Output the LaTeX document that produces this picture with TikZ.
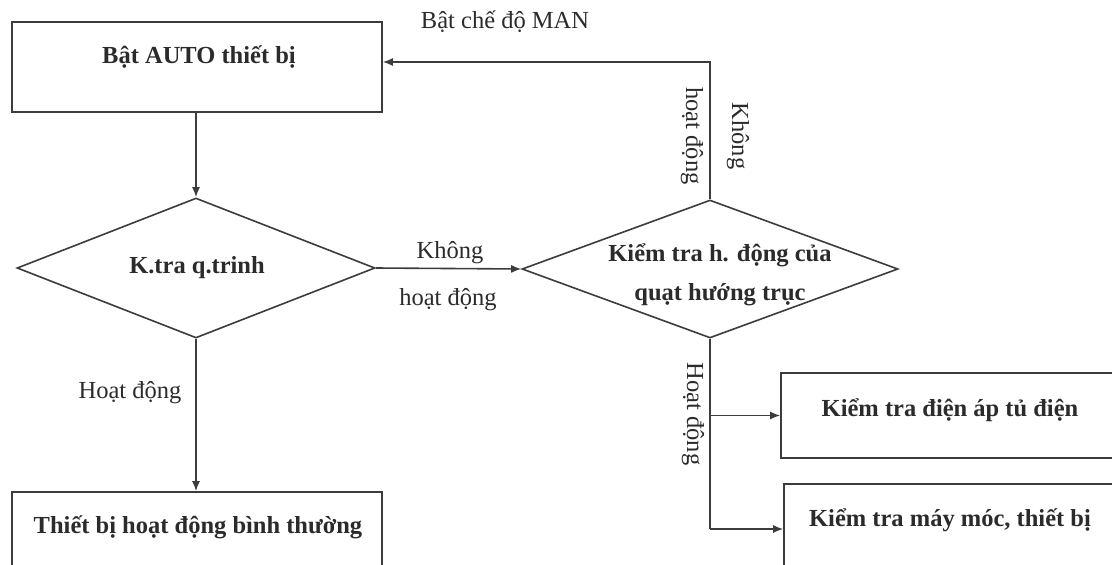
\documentclass[tikz,border=0pt]{standalone}
\usepackage{fontspec}
\setmainfont{Liberation Serif}
\usetikzlibrary{arrows.meta,shapes.geometric}
\definecolor{ink}{HTML}{2B2B2B}
\definecolor{wire}{HTML}{3C3C3C}
\begin{document}
\begin{tikzpicture}[x=1pt,y=-1pt,
  line width=1.6pt,
  every node/.style={text=ink},
  boxshape/.style={draw=wire,rectangle,inner sep=0pt},
  decision/.style={draw=wire,diamond,inner sep=0pt},
  boxtext/.style={font=\fontsize{24.5}{29}\selectfont\bfseries,inner sep=0pt},
  note/.style={font=\fontsize{24.5}{29}\selectfont,inner sep=0pt},
  flow/.style={draw=wire,-{Latex[length=10pt,width=8pt]}},
  link/.style={draw=wire}]
\useasboundingbox (0,0) rectangle (1112,565);
\fill[white] (0,0) rectangle (1112,565);
\begin{scope}
\clip (0,0) rectangle (1112,565);

% boxes
\node[boxshape,minimum width=370pt,minimum height=90pt] (b1) at (197,67) {};
\node[boxtext] (b1t) at (199,57) {Bật AUTO thiết bị};

\node[boxshape,minimum width=370pt,minimum height=120pt] (b2) at (197,552) {};
\node[boxtext] (b2t) at (198,527) {Thiết bị hoạt động bình thường};

\node[boxshape,minimum width=360pt,minimum height=85pt] (r1) at (961,415.5) {};
\node[boxtext] (r1t) at (950,410) {Kiểm tra điện áp tủ điện};

\node[boxshape,minimum width=360pt,minimum height=90pt] (r2) at (964,529) {};
\node[boxtext] (r2t) at (950,520) {Kiểm tra máy móc, thiết bị};

% decisions
\node[decision,minimum width=358pt,minimum height=140pt] (d1) at (196,268) {};
\node[boxtext] (d1t) at (197,268) {K.tra q.trinh};

\node[decision,minimum width=376pt,minimum height=138pt] (d2) at (710,269) {};
\node[boxtext,align=center] (d2t) at (720,275) {Kiểm tra h. động của\\[10.5pt]quạt hướng trục};

% connectors
\draw[flow] (d1.north |- b1.south) -- (d1.north);
\draw[flow] (d1.south) -- (d1.south |- b2.north);
\draw[flow] (d1.east) -- (d2.west);
\coordinate (loop) at (d2.north |- 0,62);
\draw[flow] (d2.north) -- (loop) -- (loop -| b1.east);
\draw[link] (d2.south) -- (d2.south |- r2.west);
\draw[flow] (d2.south |- r1.west) -- (r1.west);
\draw[flow] (d2.south |- r2.west) -- (r2.west);

% connector labels
\node[note] (lman) at (505,22) {Bật chế độ MAN};
\node[note,rotate=-90] (lhd1) at (692,136) {hoạt động};
\node[note,rotate=-90] (lk1) at (738,136) {Không};
\node[note] (lk2) at (450,253) {Không};
\node[note] (lhd2) at (448,300) {hoạt động};
\node[note] (lhd3) at (130,393) {Hoạt động};
\node[note,rotate=-90] (lhd4) at (693,414) {Hoạt động};
\end{scope}
\end{tikzpicture}
\end{document}
